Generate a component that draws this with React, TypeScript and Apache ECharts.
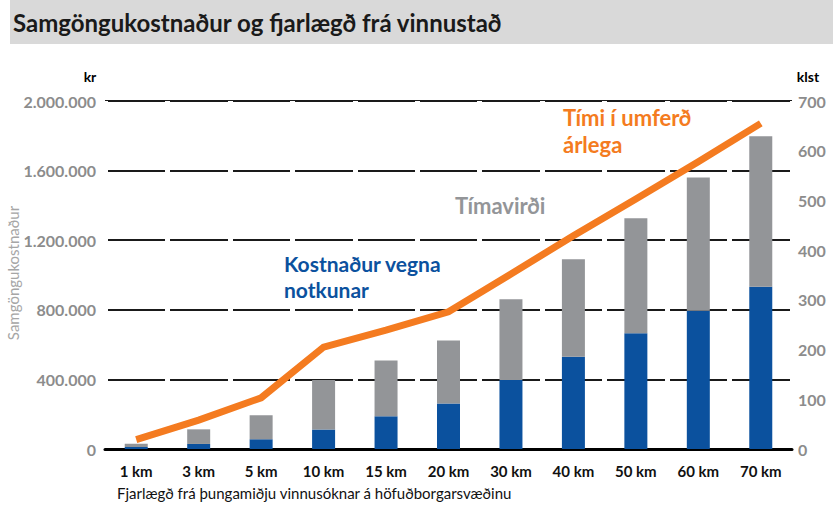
import React, { useEffect, useRef } from "react";
import * as echarts from "echarts";

const categories = ["1 km", "3 km", "5 km", "10 km", "15 km", "20 km", "30 km", "40 km", "50 km", "60 km", "70 km"];
const usageCost = [12000, 29000, 56000, 112000, 188000, 262000, 396000, 530000, 665000, 795000, 933000];
const timeValue = [18000, 84000, 138000, 284000, 320000, 361000, 464000, 560000, 661000, 766000, 864000];
const hoursInTraffic = [19, 58, 103, 205, 239, 276, 352, 429, 503, 578, 655];

const FONT = "Lato";
const BLUE = "#0b519e";
const GRAY = "#939598";
const ORANGE = "#f47b20";

function fmtKr(v: number): string {
  return String(Math.round(v)).replace(/\B(?=(\d{3})+(?!\d))/g, ".");
}

export default function App() {
  const ref = useRef<HTMLDivElement>(null);
  useEffect(() => {
    if (!ref.current) return;
    const chart = echarts.init(ref.current, null, { renderer: "svg" });
    chart.setOption({
      animation: false,
      backgroundColor: "#ffffff",
      textStyle: { fontFamily: FONT },
      grid: { left: 105, right: 41, top: 101, bottom: 56, containLabel: false },
      xAxis: {
        type: "category",
        data: categories,
        z: 1,
        axisLine: { show: true, lineStyle: { color: "#000", width: 3 } },
        axisTick: { show: false },
        axisLabel: { color: "#111", fontSize: 15, fontWeight: "bold", margin: 14, fontFamily: FONT },
        splitLine: { show: true, lineStyle: { color: "#ffffff", width: 5 } },
      },
      yAxis: [
        {
          type: "value",
          min: 0,
          max: 2000000,
          interval: 400000,
          axisLine: { show: false },
          axisTick: { show: false },
          axisLabel: { color: "#8c8c8c", fontSize: 16, fontWeight: "bold", margin: 9, formatter: (v: number) => fmtKr(v), fontFamily: FONT },
          splitLine: { show: true, lineStyle: { color: "#1a1a1a", width: 2 } },
        },
        {
          type: "value",
          min: 0,
          max: 700,
          interval: 100,
          position: "right",
          axisLine: { show: false },
          axisTick: { show: false },
          axisLabel: { color: "#8c8c8c", fontSize: 16, fontWeight: "bold", margin: 6, fontFamily: FONT },
          splitLine: { show: false },
        },
      ],
      series: [
        {
          name: "Kostnaður vegna notkunar",
          type: "bar",
          stack: "cost",
          barWidth: 23,
          yAxisIndex: 0,
          itemStyle: { color: BLUE },
          data: usageCost,
        },
        {
          name: "Tímavirði",
          type: "bar",
          stack: "cost",
          barWidth: 23,
          yAxisIndex: 0,
          itemStyle: { color: GRAY },
          data: timeValue,
        },
        {
          name: "Tími í umferð árlega",
          type: "line",
          yAxisIndex: 1,
          symbol: "none",
          z: 3,
          lineStyle: { color: ORANGE, width: 7, cap: "butt", join: "miter" },
          data: hoursInTraffic,
        },
      ],
      graphic: [
        { type: "rect", z: 0, shape: { x: 10, y: 0, width: 823, height: 44 }, style: { fill: "#d9d9d9" }, silent: true },
        {
          type: "text", z: 100, x: 13, y: 22,
          style: { text: "Samgöngukostnaður og fjarlægð frá vinnustað", fill: "#1a1a1a", font: `bold 24px ${FONT}`, verticalAlign: "middle", align: "left" },
        },
        { type: "text", z: 100, x: 90, y: 76, style: { text: "kr", fill: "#000", font: `bold 14px ${FONT}`, align: "center", verticalAlign: "middle" } },
        { type: "text", z: 100, x: 808, y: 76, style: { text: "klst", fill: "#000", font: `bold 14px ${FONT}`, align: "center", verticalAlign: "middle" } },
        {
          type: "text", z: 100, x: 13, y: 273, rotation: Math.PI / 2,
          style: { text: "Samgöngukostnaður", fill: "#a6a6a6", font: `15px ${FONT}`, align: "center", verticalAlign: "middle" },
        },
        {
          type: "text", z: 100, x: 117, y: 493,
          style: { text: "Fjarlægð frá þungamiðju vinnusóknar á höfuðborgarsvæðinu", fill: "#111", font: `15px ${FONT}`, align: "left", verticalAlign: "middle" },
        },
        {
          type: "text", z: 100, x: 563, y: 117,
          style: { text: "Tími í umferð", fill: ORANGE, font: `bold 22px ${FONT}`, align: "left", verticalAlign: "middle" },
        },
        {
          type: "text", z: 100, x: 563, y: 144,
          style: { text: "árlega", fill: ORANGE, font: `bold 22px ${FONT}`, align: "left", verticalAlign: "middle" },
        },
        {
          type: "text", z: 100, x: 455, y: 205,
          style: { text: "Tímavirði", fill: GRAY, font: `bold 22px ${FONT}`, align: "left", verticalAlign: "middle" },
        },
        {
          type: "text", z: 100, x: 284, y: 263,
          style: { text: "Kostnaður vegna", fill: BLUE, font: `bold 21px ${FONT}`, align: "left", verticalAlign: "middle" },
        },
        {
          type: "text", z: 100, x: 284, y: 289,
          style: { text: "notkunar", fill: BLUE, font: `bold 21px ${FONT}`, align: "left", verticalAlign: "middle" },
        },
      ],
    });
    return () => chart.dispose();
  }, []);
  return <div ref={ref} style={{ position: "absolute", left: 0, top: 0, width: 833, height: 505 }} />;
}
